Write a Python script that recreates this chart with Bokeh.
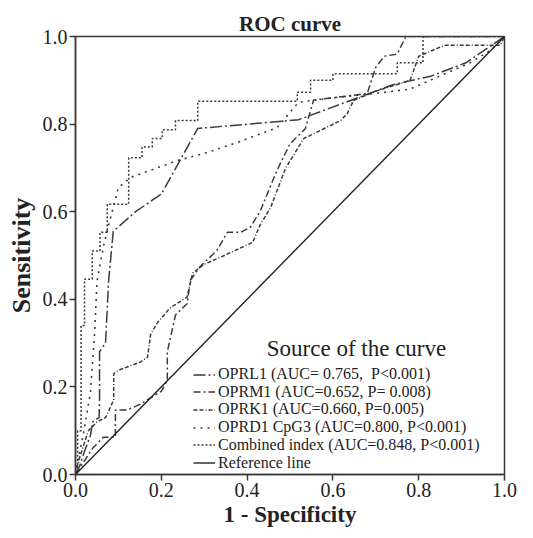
from bokeh.plotting import figure
from bokeh.models import Range1d, Legend, LegendItem, Label, NumeralTickFormatter, FixedTicker
from bokeh.embed import file_html
from bokeh.resources import INLINE

# ---- data ----
oprl1_x = [0, 0.01, 0.02, 0.035, 0.04, 0.055, 0.056, 0.056, 0.07, 0.077, 0.088, 0.14, 0.2, 0.285, 0.52, 0.63, 0.74, 0.83, 0.91, 1.0]
oprl1_y = [0, 0.02, 0.05, 0.09, 0.12, 0.13, 0.17, 0.28, 0.30, 0.44, 0.555, 0.60, 0.64, 0.79, 0.81, 0.85, 0.89, 0.91, 0.94, 1.0]

oprm1_x = [0, 0.02, 0.04, 0.065, 0.093, 0.093, 0.12, 0.15, 0.2, 0.214, 0.214, 0.233, 0.26, 0.268, 0.29, 0.33, 0.354, 0.385, 0.408, 0.43, 0.47, 0.5, 0.536, 0.555, 0.6, 0.68, 0.70, 0.72, 0.75, 0.77, 1.0]
oprm1_y = [0, 0.03, 0.06, 0.085, 0.085, 0.147, 0.147, 0.16, 0.19, 0.215, 0.28, 0.364, 0.39, 0.444, 0.474, 0.512, 0.553, 0.553, 0.565, 0.60, 0.695, 0.755, 0.79, 0.855, 0.86, 0.87, 0.93, 0.955, 0.96, 1.0, 1.0]

oprk1_x = [0, 0.01, 0.03, 0.05, 0.07, 0.089, 0.089, 0.1, 0.152, 0.168, 0.175, 0.19, 0.22, 0.26, 0.273, 0.3, 0.34, 0.413, 0.43, 0.455, 0.49, 0.532, 0.618, 0.634, 0.648, 0.70, 0.78, 0.80, 0.86, 0.99, 1.0]
oprk1_y = [0, 0.04, 0.10, 0.12, 0.13, 0.17, 0.23, 0.238, 0.257, 0.268, 0.32, 0.345, 0.38, 0.405, 0.46, 0.48, 0.497, 0.53, 0.569, 0.61, 0.70, 0.767, 0.808, 0.825, 0.854, 0.875, 0.90, 0.955, 0.98, 0.98, 1.0]

oprd1_x = [0, 0.005, 0.02, 0.035, 0.045, 0.05, 0.065, 0.08, 0.1, 0.128, 0.238, 0.3, 0.377, 0.47, 0.52, 0.6, 0.7, 0.78, 0.85, 0.92, 0.97, 1.0]
oprd1_y = [0, 0.03, 0.10, 0.19, 0.33, 0.44, 0.52, 0.58, 0.655, 0.678, 0.717, 0.733, 0.758, 0.792, 0.85, 0.86, 0.87, 0.88, 0.91, 0.94, 0.97, 1.0]

comb_x = [0, 0, 0.005, 0.005, 0.013, 0.013, 0.021, 0.021, 0.039, 0.039, 0.057, 0.057, 0.074, 0.074, 0.124, 0.124, 0.155, 0.155, 0.179, 0.179, 0.202, 0.202, 0.233, 0.233, 0.285, 0.285, 0.517, 0.517, 0.548, 0.548, 0.6, 0.6, 0.75, 0.75, 0.81, 0.81, 1.0]
comb_y = [0, 0.02, 0.02, 0.10, 0.10, 0.34, 0.34, 0.446, 0.446, 0.51, 0.51, 0.553, 0.553, 0.617, 0.617, 0.723, 0.723, 0.748, 0.748, 0.767, 0.767, 0.787, 0.787, 0.808, 0.808, 0.852, 0.852, 0.873, 0.873, 0.90, 0.90, 0.915, 0.915, 0.94, 0.94, 1.0, 1.0]

ref_x = [0, 1]
ref_y = [0, 1]

labels = [
    "OPRL1 (AUC= 0.765,  P<0.001)",
    "OPRM1 (AUC=0.652, P= 0.008)",
    "OPRK1 (AUC=0.660, P=0.005)",
    "OPRD1 CpG3 (AUC=0.800, P<0.001)",
    "Combined index (AUC=0.848, P<0.001)",
    "Reference line",
]
legend_title = "Source of the curve"
ticks = [0.0, 0.2, 0.4, 0.6, 0.8, 1.0]

FONT = "Liberation Serif"
INK = "#3a3a3a"
TXT = "#222222"

p = figure(width=525, height=530, output_backend="svg", toolbar_location=None,
           x_range=Range1d(0, 1), y_range=Range1d(0, 1),
           min_border_left=75, min_border_right=21, min_border_top=36, min_border_bottom=56)

p.title.text = "ROC curve"
p.title.align = "center"
p.title.text_font = FONT
p.title.text_font_size = "21px"
p.title.text_font_style = "bold"
p.title.text_color = TXT
p.title.standoff = 2

p.xgrid.visible = False
p.ygrid.visible = False
p.outline_line_color = INK
p.outline_line_width = 1.5
p.background_fill_color = "white"
p.border_fill_color = "white"

for ax in (p.xaxis[0], p.yaxis[0]):
    ax.ticker = FixedTicker(ticks=ticks)
    ax.formatter = NumeralTickFormatter(format="0.0")
    ax.major_label_text_font = FONT
    ax.major_label_text_font_size = "20px"
    ax.major_label_text_color = TXT
    ax.axis_label_text_font = FONT
    ax.axis_label_text_font_style = "bold"
    ax.axis_label_text_color = TXT
    ax.axis_line_color = INK
    ax.axis_line_width = 1.5
    ax.major_tick_line_color = INK
    ax.major_tick_line_width = 1.5
    ax.major_tick_out = 6
    ax.major_tick_in = 0
    ax.minor_tick_line_color = None
    ax.major_label_standoff = 2

p.xaxis.axis_label = "1 - Specificity"
p.yaxis.axis_label = "Sensitivity"
p.xaxis.axis_label_text_font_size = "23px"
p.yaxis.axis_label_text_font_size = "26px"
p.xaxis.axis_label_standoff = 2
p.yaxis.axis_label_standoff = 4

r1 = p.line(oprl1_x, oprl1_y, line_color=INK, line_width=1.5, line_dash="12 3 2 3")
r2 = p.line(oprm1_x, oprm1_y, line_color=INK, line_width=1.5, line_dash="7 3 2 3")
r3 = p.line(oprk1_x, oprk1_y, line_color=INK, line_width=1.5, line_dash="4 2 4 2 1 2")
r4 = p.line(oprd1_x, oprd1_y, line_color=INK, line_width=1.6, line_dash="2 5")
r5 = p.line(comb_x, comb_y, line_color=INK, line_width=1.5, line_dash="2 2")
r6 = p.line(ref_x, ref_y, line_color=TXT, line_width=1.4)

# one single-item legend per row so that rows can sit as tightly as in the original
ROW0 = 91.0   # px above frame bottom of first row's box bottom
ROWSTEP = 17.7
for i, (lab, r) in enumerate(zip(labels, [r1, r2, r3, r4, r5, r6])):
    lg = Legend(items=[LegendItem(label=lab, renderers=[r])],
                location=(118, ROW0 - i * ROWSTEP), orientation="vertical")
    lg.border_line_color = None
    lg.background_fill_alpha = 0
    lg.padding = 0
    lg.margin = 0
    lg.spacing = 0
    lg.glyph_width = 22
    lg.glyph_height = 15
    lg.label_height = 15
    lg.label_standoff = 3
    lg.label_text_font = FONT
    lg.label_text_font_size = "16px"
    lg.label_text_color = TXT
    p.add_layout(lg, "center")

p.add_layout(Label(x=0.655, y=0.2885, text=legend_title, text_align="center",
                   text_baseline="middle", text_font=FONT, text_font_size="23px",
                   text_color=TXT))

open("out.html", "w").write(file_html(p, INLINE))
